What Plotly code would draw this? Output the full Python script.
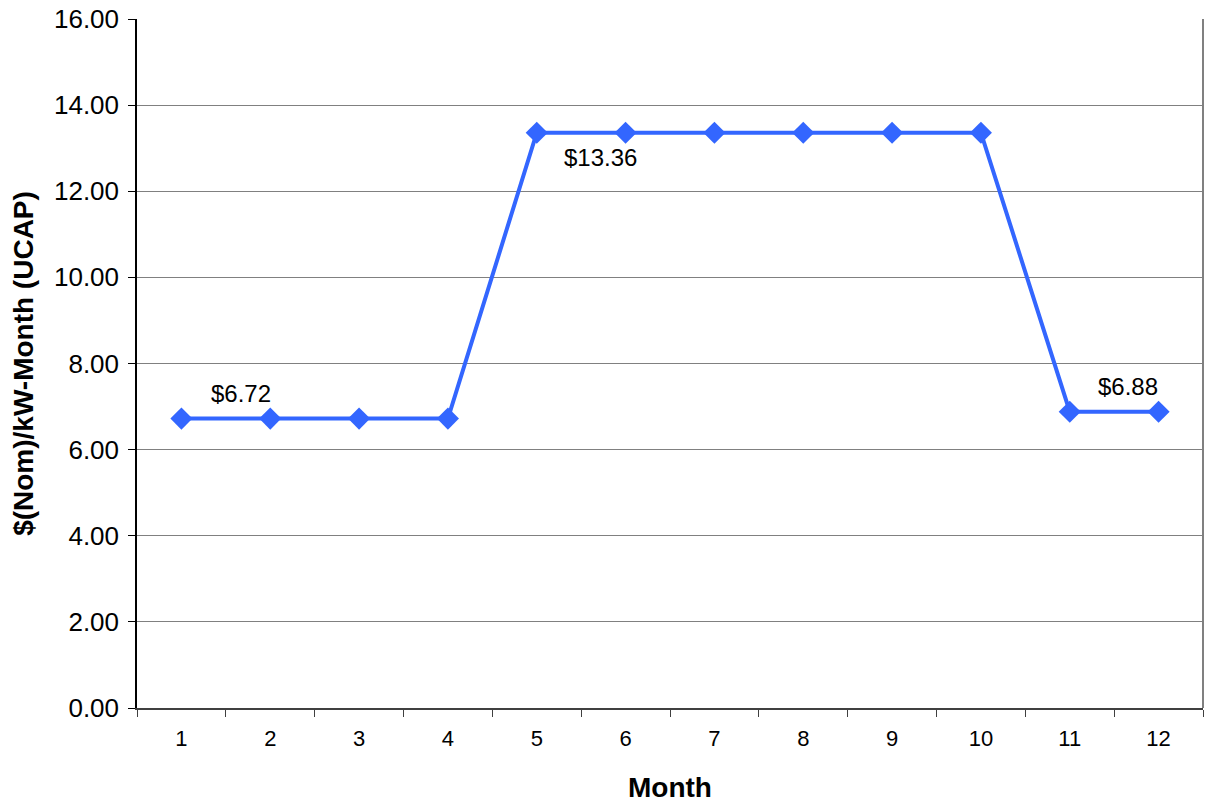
import plotly.graph_objects as go

# Monthly capacity price, $(Nom)/kW-Month (UCAP)
months = [str(m) for m in range(1, 13)]
prices = [6.72, 6.72, 6.72, 6.72, 13.36, 13.36, 13.36, 13.36, 13.36, 13.36, 6.88, 6.88]

# Which points carry a value label, with pixel offsets for each label
label_points = [0, 4, 10]
label_offsets = [(60, 25), (64, -25), (58, 25)]

FONT = "Liberation Sans, Arial, sans-serif"
BLUE = "#3366FF"

fig = go.Figure()
fig.add_trace(go.Scatter(
    x=months, y=prices, mode="lines+markers",
    line=dict(color=BLUE, width=4),
    marker=dict(symbol="diamond", size=17, color=BLUE),
    showlegend=False, hoverinfo="skip",
))

for idx, (dx, dy) in zip(label_points, label_offsets):
    # category axes position annotations by category index
    fig.add_annotation(
        x=idx, y=prices[idx], text=f"${prices[idx]:.2f}",
        showarrow=False, xshift=dx, yshift=dy,
        font=dict(family=FONT, size=24, color="black"),
    )

# right-hand border of the plot area
fig.add_shape(type="line", xref="paper", yref="paper", x0=1, x1=1, y0=0, y1=1,
              line=dict(color="#808080", width=2))

fig.update_layout(
    width=1207, height=803,
    margin=dict(l=137, r=4, t=19, b=93),
    paper_bgcolor="white", plot_bgcolor="white",
    font=dict(family=FONT, color="black"),
    xaxis=dict(
        type="category", tickson="boundaries", range=[-0.5, 11.5],
        ticks="outside", ticklen=7, tickcolor="#404040", tickwidth=1,
        showgrid=False, showline=True, linecolor="#404040", linewidth=2,
        tickfont=dict(size=22), ticklabelstandoff=10,
        title=dict(text="<b>Month</b>", font=dict(size=28), standoff=28),
    ),
    yaxis=dict(
        range=[0, 16], dtick=2, tickformat=".2f",
        ticks="outside", ticklen=7, tickcolor="black",
        showgrid=True, gridcolor="#808080", gridwidth=1,
        showline=True, linecolor="black", linewidth=1.5,
        zeroline=False,
        tickfont=dict(size=26), ticklabelstandoff=4,
        title=dict(text="<b>$(Nom)/kW-Month (UCAP)</b>", font=dict(size=28), standoff=12),
    ),
)

fig.write_html("out.html")
